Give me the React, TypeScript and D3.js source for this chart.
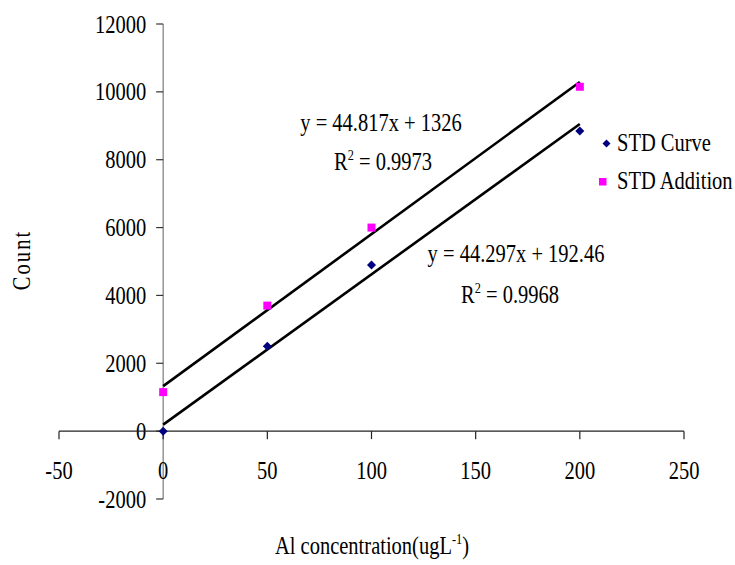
import React from "react";
import * as d3 from "d3";

// Calibration data: Al concentration (ug/L) vs. count
const concentrations = [0, 50, 100, 200];
const stdCurveCounts = [0, 2500, 4900, 8850];
const stdAdditionCounts = [1150, 3700, 6000, 10150];

// Linear trendlines as reported
const curveSlope = 44.297;
const curveIntercept = 192.46;
const curveR2 = "0.9968";
const additionSlope = 44.817;
const additionIntercept = 1326;
const additionR2 = "0.9973";

const xTicks = [-50, 0, 50, 100, 150, 200, 250];
const yTicks = [-2000, 0, 2000, 4000, 6000, 8000, 10000, 12000];

const W = 735;
const H = 565;
const FONT = "'Liberation Serif', 'Times New Roman', serif";
const SX = 0.82; // narrow serif glyphs

function Txt({ x, y, anchor = "start", size = 25, children, rotate = 0, spacing = 0 }: any) {
  const t = rotate
    ? `translate(${x},${y}) rotate(${rotate}) scale(${SX},1)`
    : `translate(${x},${y}) scale(${SX},1)`;
  return (
    <text
      transform={t}
      textAnchor={anchor}
      fontFamily={FONT}
      fontSize={size}
      letterSpacing={spacing}
      fill="#000"
    >
      {children}
    </text>
  );
}

export default function App() {
  const x = d3.scaleLinear().domain([-50, 250]).range([59, 684]);
  const y = d3.scaleLinear().domain([-2000, 12000]).range([499, 24]);

  const trend = d3.line<[number, number]>().x((d) => x(d[0])).y((d) => y(d[1]));
  const trendX = [0, 200];
  const curveTrend = trendX.map((v) => [v, curveSlope * v + curveIntercept] as [number, number]);
  const addTrend = trendX.map((v) => [v, additionSlope * v + additionIntercept] as [number, number]);

  const diamond = (cx: number, cy: number, r = 4.5) =>
    `M${cx},${cy - r}L${cx + r},${cy}L${cx},${cy + r}L${cx - r},${cy}Z`;

  const x0 = x(0);
  const y0 = y(0);

  return (
    <svg
      width={W}
      height={H}
      style={{ position: "absolute", left: 0, top: 0, background: "#fff" }}
    >
      <rect width={W} height={H} fill="#fff" />

      {/* y axis */}
      <line x1={x0} x2={x0} y1={y(12000)} y2={y(-2000)} stroke="#7a7a7a" strokeWidth={1.2} />
      {yTicks.map((t) => (
        <g key={"yt" + t}>
          <line x1={x0 - 7} x2={x0} y1={y(t)} y2={y(t)} stroke="#333" strokeWidth={1.2} />
          <Txt x={x0 - 17} y={y(t) + 8.5} anchor="end">
            {t}
          </Txt>
        </g>
      ))}

      {/* x axis */}
      <line x1={x(-50)} x2={x(250)} y1={y0} y2={y0} stroke="#222" strokeWidth={1.2} />
      {xTicks.map((t) => (
        <g key={"xt" + t}>
          <line x1={x(t)} x2={x(t)} y1={y0} y2={y0 + 8} stroke="#222" strokeWidth={1.2} />
          <Txt x={x(t)} y={y0 + 48} anchor="middle">
            {t}
          </Txt>
        </g>
      ))}

      {/* trendlines */}
      <path d={trend(addTrend) || ""} stroke="#000" strokeWidth={2.6} fill="none" />
      <path d={trend(curveTrend) || ""} stroke="#000" strokeWidth={2.6} fill="none" />

      {/* data points */}
      {concentrations.map((c, i) => (
        <rect
          key={"a" + i}
          x={x(c) - 4}
          y={y(stdAdditionCounts[i]) - 4}
          width={8}
          height={8}
          fill="#ff00ff"
        />
      ))}
      {concentrations.map((c, i) => (
        <path key={"c" + i} d={diamond(x(c), y(stdCurveCounts[i]))} fill="#000080" />
      ))}

      {/* equations */}
      <Txt x={381} y={131} anchor="middle">
        {`y = ${additionSlope}x + ${additionIntercept}`}
      </Txt>
      <Txt x={383} y={170} anchor="middle">
        R<tspan dy={-10} fontSize={15}>2</tspan>
        <tspan dy={10}>{` = ${additionR2}`}</tspan>
      </Txt>
      <Txt x={516} y={262} anchor="middle">
        {`y = ${curveSlope}x + ${curveIntercept}`}
      </Txt>
      <Txt x={510} y={303} anchor="middle">
        R<tspan dy={-10} fontSize={15}>2</tspan>
        <tspan dy={10}>{` = ${curveR2}`}</tspan>
      </Txt>

      {/* legend */}
      <path d={diamond(606.5, 143.5, 4)} fill="#000080" />
      <Txt x={617} y={151}>STD Curve</Txt>
      <rect x={599} y={178} width={7.5} height={7.5} fill="#ff00ff" />
      <Txt x={617} y={189}>STD Addition</Txt>

      {/* axis titles */}
      <Txt x={30} y={260} anchor="middle" rotate={-90} spacing={2.5}>
        Count
      </Txt>
      <Txt x={372} y={554} anchor="middle">
        Al concentration(ugL<tspan dy={-10} fontSize={15}>-1</tspan>
        <tspan dy={10}>)</tspan>
      </Txt>
    </svg>
  );
}
